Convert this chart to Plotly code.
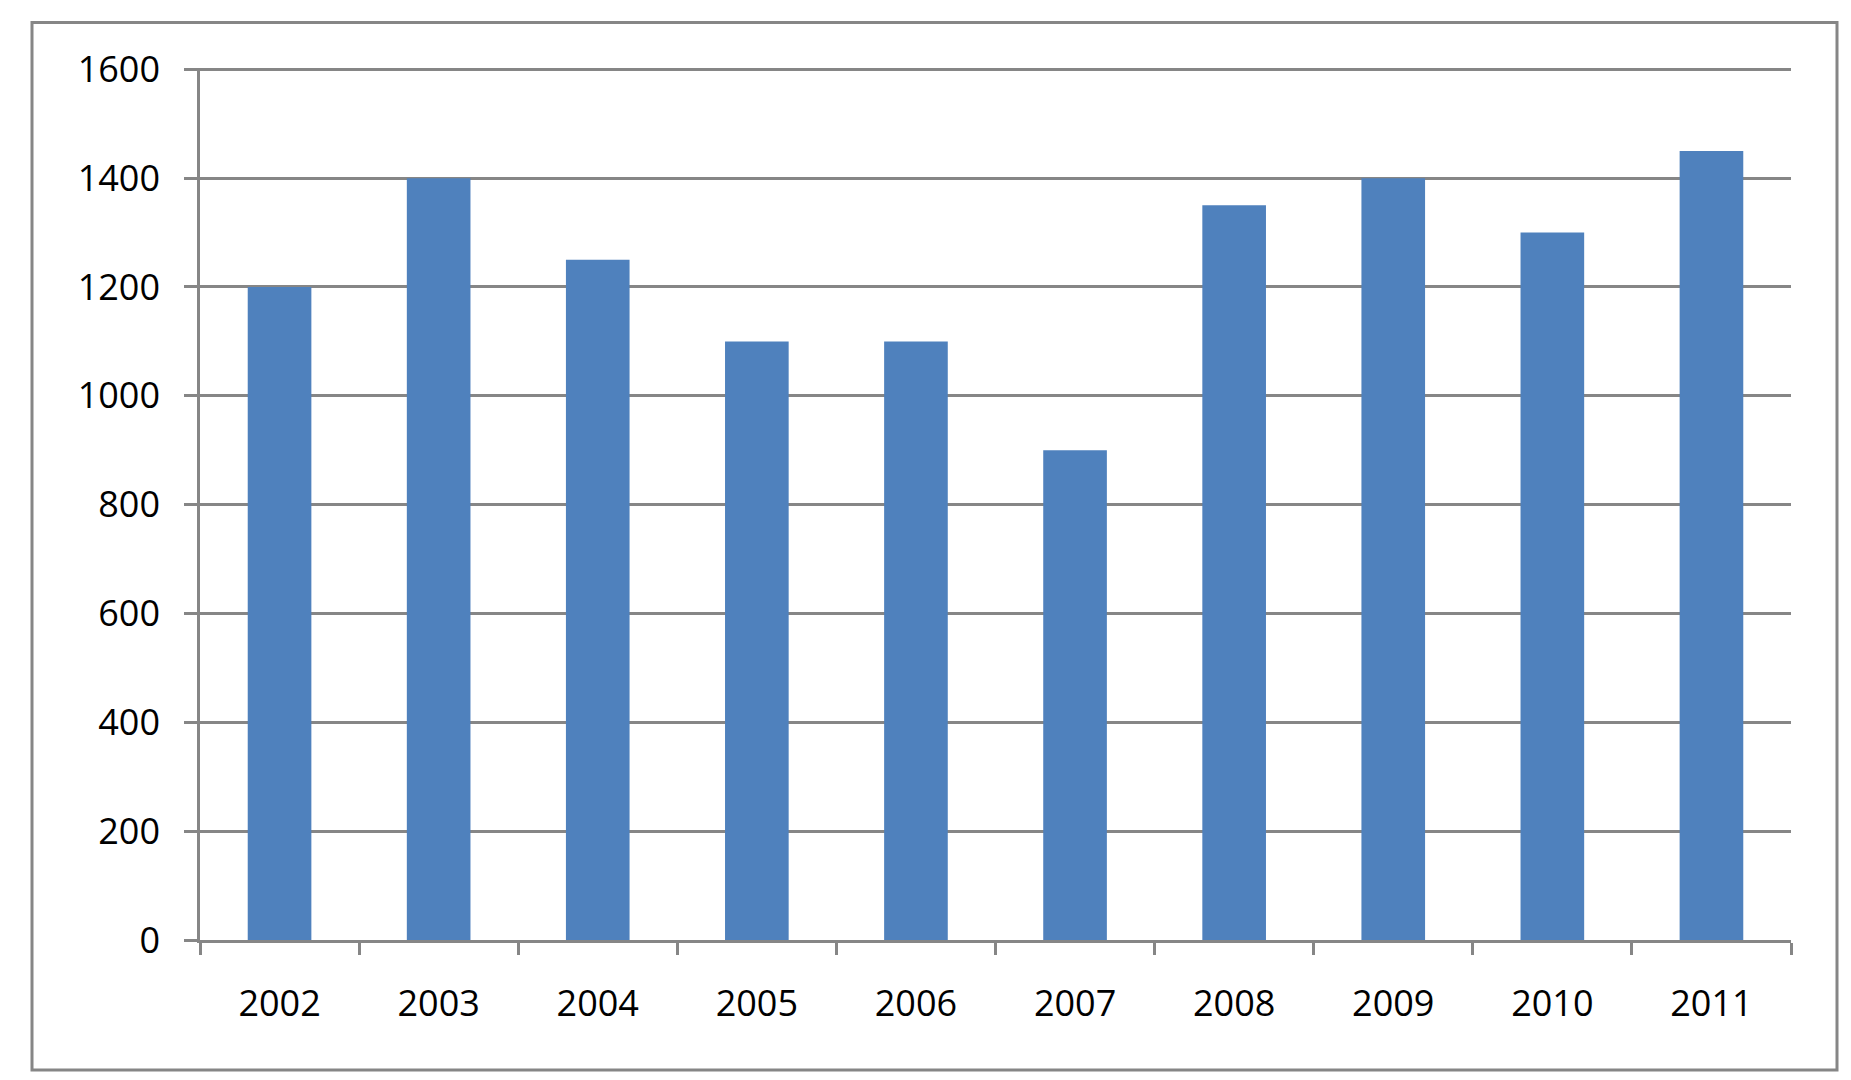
import plotly.graph_objects as go

years = ["2002", "2003", "2004", "2005", "2006", "2007", "2008", "2009", "2010", "2011"]
values = [1200, 1400, 1250, 1100, 1100, 900, 1350, 1400, 1300, 1450]
y_ticks = [0, 200, 400, 600, 800, 1000, 1200, 1400, 1600]

# the page body has an 8px default margin; work in figure coordinates
OFF = 8
W, H = 1833, 1064
plot_x0, plot_x1, plot_y0, plot_y1 = 200 - OFF, 1791 - OFF, 68 - OFF, 940 - OFF
L, R, T, B = plot_x0, W - plot_x1, plot_y0, H - plot_y1
pw, ph = plot_x1 - plot_x0, plot_y1 - plot_y0

GRAY = "#868686"
FONT = dict(family="Open Sans, Lato, sans-serif", size=36, color="#000000")

fig = go.Figure(go.Bar(x=years, y=values, marker=dict(color="#4F81BD", line=dict(width=0))))

fig.update_layout(
    width=W, height=H,
    margin=dict(l=L, r=R, t=T, b=B, pad=0),
    plot_bgcolor="white", paper_bgcolor="white",
    bargap=0.6, showlegend=False,
    font=FONT,
)
fig.update_xaxes(
    type="category", range=[-0.5, len(years) - 0.5],
    showline=True, linecolor=GRAY, linewidth=2.5,
    ticks="outside", tickson="boundaries", ticklen=12, tickwidth=2.5, tickcolor=GRAY,
    showgrid=False, zeroline=False, tickfont=FONT, ticklabelstandoff=30,
)
fig.update_yaxes(
    range=[0, 1600 * 1.0015], tickvals=y_ticks, ticktext=[str(v) for v in y_ticks],
    showline=True, linecolor=GRAY, linewidth=2.5,
    ticks="outside", ticklen=13, tickwidth=2.5, tickcolor=GRAY,
    showgrid=True, gridcolor=GRAY, gridwidth=2.5, zeroline=False,
    tickfont=FONT, ticklabelstandoff=17,
)

# outer chart border (screen coords minus page offset)
bx0, bx1, by0, by1 = 32 - OFF, 1837 - OFF, 22.5 - OFF, 1075.5 - OFF
by1 = min(by1, H - 2)
fig.add_shape(
    type="rect", xref="paper", yref="paper",
    x0=(bx0 - L) / pw, x1=(bx1 - L) / pw,
    y0=(plot_y1 - by1) / ph, y1=(plot_y1 - by0) / ph,
    line=dict(color=GRAY, width=3), layer="above",
)

fig.write_html("out.html")
